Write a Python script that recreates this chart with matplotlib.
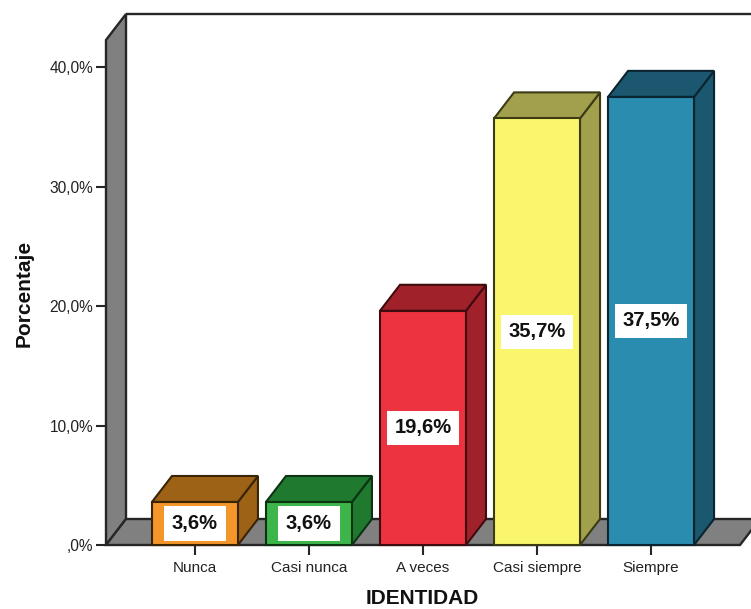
import matplotlib
matplotlib.use("Agg")
import matplotlib.pyplot as plt
from matplotlib.patches import Polygon

plt.rcParams['font.family'] = ['Liberation Sans', 'DejaVu Sans']

# Data
categories = ["Nunca", "Casi nunca", "A veces", "Casi siempre", "Siempre"]
values = [3.6, 3.6, 19.6, 35.7, 37.5]
value_labels = ["3,6%", "3,6%", "19,6%", "35,7%", "37,5%"]
y_ticks = [0, 10, 20, 30, 40]
y_tick_labels = [",0%", "10,0%", "20,0%", "30,0%", "40,0%"]

# Face colours: front, top/side
front_colors = ["#F5962A", "#3DB54B", "#EE3340", "#F9F66E", "#2A8CAF"]
side_colors = ["#9E6216", "#1F7A30", "#A0212A", "#A2A04C", "#1B5870"]
edge_colors = ["#3a2406", "#0d3313", "#3f0b0f", "#3c3b16", "#0a2430"]

W, H = 751, 609
fig = plt.figure(figsize=(W / 100, H / 100), dpi=100)
ax = fig.add_axes([106 / W, (H - 545) / H, 634 / W, 505 / H])

XMIN, XMAX = -0.78, 4.78
YMAX = 42.26
ax.set_xlim(XMIN, XMAX)
ax.set_ylim(0, YMAX)

# 3-D depth offset in data units
DX = 20 / 114.0
DY = 26 / 11.95
HALF = 0.377
LW = 1.7
FRAME = "#262626"
GREY = "#808080"

# Back wall top edge
ax.plot([XMIN + DX, XMAX + 2 * DX], [YMAX + DY, YMAX + DY], color=FRAME,
        lw=LW, clip_on=False, zorder=1, solid_capstyle="butt")

# Left wall
ax.add_patch(Polygon([(XMIN, 0), (XMIN, YMAX), (XMIN + DX, YMAX + DY), (XMIN + DX, DY)],
                     closed=True, facecolor=GREY, edgecolor=FRAME, lw=LW,
                     clip_on=False, zorder=2, joinstyle="miter"))
# Floor
ax.add_patch(Polygon([(XMIN, 0), (XMAX, 0), (XMAX + DX, DY), (XMIN + DX, DY)],
                     closed=True, facecolor=GREY, edgecolor=FRAME, lw=LW,
                     clip_on=False, zorder=2, joinstyle="miter"))

# Bars
for i, (v, fc, sc, ec, lab) in enumerate(zip(values, front_colors, side_colors,
                                             edge_colors, value_labels)):
    x0, x1 = i - HALF, i + HALF
    front = [(x0, 0), (x1, 0), (x1, v), (x0, v)]
    top = [(x0, v), (x1, v), (x1 + DX, v + DY), (x0 + DX, v + DY)]
    side = [(x1, 0), (x1 + DX, DY), (x1 + DX, v + DY), (x1, v)]
    for pts, c in ((side, sc), (top, sc), (front, fc)):
        ax.add_patch(Polygon(pts, closed=True, facecolor=c, edgecolor=ec, lw=1.5,
                             clip_on=False, zorder=3, joinstyle="miter"))
    ax.text(i, v / 2, lab, ha="center", va="center", fontsize=14.5,
            fontweight="bold", color="#111111", zorder=5,
            bbox=dict(boxstyle="square,pad=0.38", facecolor="white",
                      edgecolor="none"))

# Axes, ticks and labels
for s in ax.spines.values():
    s.set_visible(False)
ax.set_facecolor("none")
ax.set_xticks(range(len(categories)))
ax.set_xticklabels(categories, fontsize=11, color="#222222")
ax.set_yticks(y_ticks)
ax.set_yticklabels(y_tick_labels, fontsize=11.2, color="#222222")
ax.tick_params(axis="both", direction="out", length=7.2, width=1.5,
               color=FRAME)
ax.tick_params(axis="x", pad=4)
ax.tick_params(axis="y", pad=2)

fig.text(24 / W, 1 - 293 / H, "Porcentaje", rotation=90, ha="center", va="center",
         fontsize=15, fontweight="bold", color="#111111")
fig.text(422 / W, 1 - 599 / H, "IDENTIDAD", ha="center", va="center",
         fontsize=15, fontweight="bold", color="#111111")

fig.savefig("out.png", dpi=100)
